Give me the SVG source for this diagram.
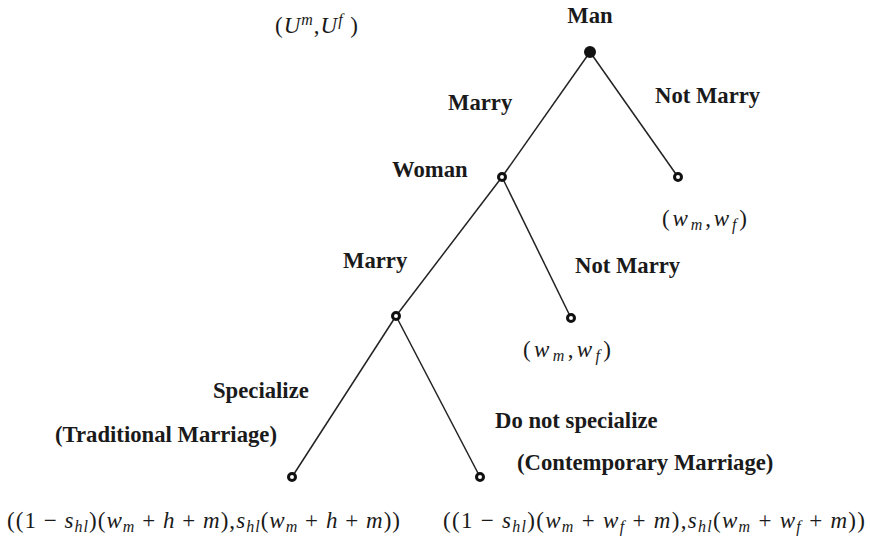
<svg xmlns="http://www.w3.org/2000/svg" width="870" height="538" viewBox="0 0 870 538">
<style>
.lbl{font-family:"Liberation Serif","Times New Roman",serif;font-weight:bold;font-size:22.7px;fill:#1a1a1a}
.m{font-family:"Liberation Serif","Times New Roman",serif;font-size:23px;fill:#1a1a1a}
.i{font-style:italic}
.s{font-style:italic;font-size:16px}
.edge{stroke:#222;stroke-width:1.5;fill:none}
.open{fill:#fff;stroke:#111;stroke-width:3}
</style>
<rect width="870" height="538" fill="#fff"/>
<g id="connectors">
<line class="edge" x1="590" y1="52" x2="502" y2="177"/>
<line class="edge" x1="590" y1="52" x2="678" y2="177"/>
<line class="edge" x1="502" y1="177" x2="396" y2="316"/>
<line class="edge" x1="502" y1="177" x2="571" y2="318"/>
<line class="edge" x1="396" y1="316" x2="292" y2="477"/>
<line class="edge" x1="396" y1="316" x2="480" y2="477"/>
</g>
<text class="m" x="275" y="33" textLength="83" lengthAdjust="spacing">(<tspan class="i">U</tspan><tspan class="s" dy="-8">m</tspan><tspan dy="8">,</tspan><tspan class="i">U</tspan><tspan class="s" dy="-8">f</tspan><tspan dy="8"> )</tspan></text>
<g id="man">
<circle cx="590" cy="52" r="6" fill="#111"/>
<text class="lbl" x="590" y="23" text-anchor="middle">Man</text>
</g>
<text class="lbl" x="448" y="110">Marry</text>
<text class="lbl" x="655" y="103">Not Marry</text>
<g id="woman">
<circle class="open" cx="502" cy="177" r="3.5"/>
<text class="lbl" x="392" y="177">Woman</text>
</g>
<g id="leaf1">
<circle class="open" cx="678" cy="177" r="3.5"/>
<text class="m" x="662" y="226" textLength="85" lengthAdjust="spacing">(<tspan class="i">w</tspan><tspan class="s" dy="4">m</tspan><tspan dy="-4">,</tspan><tspan class="i">w</tspan><tspan class="s" dy="4">f</tspan><tspan dy="-4">)</tspan></text>
</g>
<text class="lbl" x="343" y="268">Marry</text>
<text class="lbl" x="575" y="273">Not Marry</text>
<g id="marry-node">
<circle class="open" cx="396" cy="316" r="3.5"/>
</g>
<g id="leaf2">
<circle class="open" cx="571" cy="318" r="3.5"/>
<text class="m" x="523" y="357" textLength="88" lengthAdjust="spacing">(<tspan class="i">w</tspan><tspan class="s" dy="4">m</tspan><tspan dy="-4">,</tspan><tspan class="i">w</tspan><tspan class="s" dy="4">f</tspan><tspan dy="-4">)</tspan></text>
</g>
<text class="lbl" x="213" y="398">Specialize</text>
<text class="lbl" x="55" y="442">(Traditional Marriage)</text>
<text class="lbl" x="495" y="428">Do not specialize</text>
<text class="lbl" x="517" y="470">(Contemporary Marriage)</text>
<g id="leaf3">
<circle class="open" cx="292" cy="477" r="3.5"/>
<text class="m" x="7" y="528" textLength="393" lengthAdjust="spacing">((1 − <tspan class="i">s</tspan><tspan class="s" dy="4">hl</tspan><tspan dy="-4">)(</tspan><tspan class="i">w</tspan><tspan class="s" dy="4">m</tspan><tspan dy="-4"> + </tspan><tspan class="i">h</tspan> + <tspan class="i">m</tspan>),<tspan class="i">s</tspan><tspan class="s" dy="4">hl</tspan><tspan dy="-4">(</tspan><tspan class="i">w</tspan><tspan class="s" dy="4">m</tspan><tspan dy="-4"> + </tspan><tspan class="i">h</tspan> + <tspan class="i">m</tspan>))</text>
</g>
<g id="leaf4">
<circle class="open" cx="480" cy="477" r="3.5"/>
<text class="m" x="443" y="528" textLength="422" lengthAdjust="spacing">((1 − <tspan class="i">s</tspan><tspan class="s" dy="4">hl</tspan><tspan dy="-4">)(</tspan><tspan class="i">w</tspan><tspan class="s" dy="4">m</tspan><tspan dy="-4"> + </tspan><tspan class="i">w</tspan><tspan class="s" dy="4">f</tspan><tspan dy="-4"> + </tspan><tspan class="i">m</tspan>),<tspan class="i">s</tspan><tspan class="s" dy="4">hl</tspan><tspan dy="-4">(</tspan><tspan class="i">w</tspan><tspan class="s" dy="4">m</tspan><tspan dy="-4"> + </tspan><tspan class="i">w</tspan><tspan class="s" dy="4">f</tspan><tspan dy="-4"> + </tspan><tspan class="i">m</tspan>))</text>
</g>
</svg>
